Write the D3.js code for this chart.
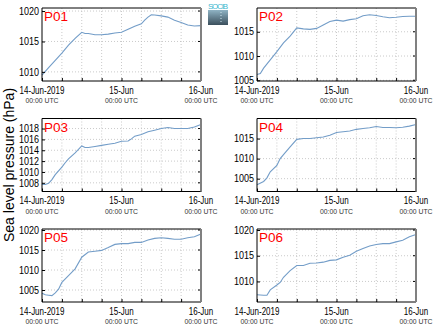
<!DOCTYPE html>
<html><head><meta charset="utf-8">
<script src="https://cdn.jsdelivr.net/npm/d3@7"></script>
<style>
html,body{margin:0;padding:0;background:#fff;}
svg{display:block;font-family:"Liberation Sans",Arial,sans-serif;}
</style></head>
<body><svg id="c" width="435" height="327"></svg>
<script>
// hours since 14-Jun-2019 00:00 UTC
const hoursP01 = [0,2,4,6,8,10,12,13,14,16,18,20,22,24,26,28,30,31,32,33,34,36,38,40,42,44,46,48];
const valuesP01 = [1009.45,1010.7,1011.9,1013.1,1014.4,1015.5,1016.5,1016.3,1016.3,1016.1,1016.1,1016.2,1016.4,1016.5,1017.0,1017.5,1017.9,1018.5,1019.0,1019.4,1019.35,1019.2,1019.0,1018.5,1018.1,1017.7,1017.55,1017.6];
const hoursP02 = [0,1,2,4,6,8,10,12,14,16,18,20,22,24,26,28,30,32,34,36,38,40,42,44,46,48];
const valuesP02 = [1006.2,1006.4,1007.5,1009.2,1010.9,1012.7,1014.1,1015.8,1015.6,1015.5,1015.7,1016.4,1017.1,1017.4,1017.2,1017.5,1017.7,1018.3,1018.5,1018.35,1018.1,1017.9,1018.0,1018.15,1018.2,1018.2];
const hoursP03 = [0,1,2,3,4,6,7,8,10,12,13,14,16,18,20,22,24,26,27,28,30,32,34,36,38,40,42,44,46,48];
const valuesP03 = [1007.7,1007.7,1007.9,1008.6,1009.5,1010.9,1011.7,1012.4,1013.5,1014.8,1014.5,1014.5,1014.7,1014.9,1015.1,1015.3,1015.65,1015.7,1016.1,1016.6,1016.9,1017.4,1017.7,1018.0,1018.2,1018.0,1018.0,1018.0,1018.3,1018.75];
const hoursP04 = [0,2,3,4,6,7,8,10,12,14,16,18,20,22,24,26,28,30,32,34,36,38,40,42,44,46,48];
const valuesP04 = [1003.5,1004.3,1005.2,1006.7,1008.3,1010.0,1011.0,1012.9,1014.8,1015.0,1015.0,1015.2,1015.4,1015.8,1016.5,1016.7,1016.9,1017.3,1017.5,1017.7,1018.0,1017.75,1017.75,1017.7,1017.8,1018.1,1018.5];
const hoursP05 = [0,1,2,3,4,5,6,8,10,12,14,16,18,20,22,24,26,28,30,32,34,36,38,40,42,44,46,48];
const valuesP05 = [1004.2,1003.8,1003.7,1003.6,1004.3,1005.2,1006.9,1008.6,1010.3,1013.2,1014.5,1014.7,1014.9,1015.6,1016.4,1016.6,1016.6,1016.9,1016.9,1017.5,1017.9,1018.05,1017.9,1017.7,1017.7,1018.05,1018.3,1019.0];
const hoursP06 = [0,2,3,4,6,7,8,10,12,13,14,16,18,20,22,24,26,28,30,32,34,36,38,40,42,44,46,48];
const valuesP06 = [1007.4,1007.3,1007.3,1008.35,1009.3,1009.8,1010.8,1012.1,1013.1,1013.1,1013.1,1013.55,1013.6,1013.75,1014.1,1014.2,1014.7,1015.1,1015.85,1016.4,1016.9,1017.2,1017.35,1017.35,1017.7,1018.0,1018.7,1019.15];

const stations = ["P01","P02","P03","P04","P05","P06"];
const yDomains = [[1008.5,1020.5],[1004.85,1019.9],[1006.4,1019.85],[1001.8,1020],[1002,1020.25],[1006,1020.2]];
const yTicks = [[1010,1015,1020],[1005,1010,1015],[1008,1010,1012,1014,1016,1018],[1005,1010,1015],[1005,1010,1015,1020],[1010,1015,1020]];
const xTickLabels = ["14-Jun-2019","15-Jun","16-Jun"];
const xTickSub = ["00:00 UTC","00:00 UTC","00:00 UTC"];
const yLabel = "Sea level pressure (hPa)";

const hours = [hoursP01,hoursP02,hoursP03,hoursP04,hoursP05,hoursP06];
const values = [valuesP01,valuesP02,valuesP03,valuesP04,valuesP05,valuesP06];

const svg = d3.select("#c");
const t0 = Date.UTC(2019,5,14);
const colX = [42, 257], rowY = [8, 118.5, 229];
const W = 159, H = 73;

function squeeze(sel, f){
  sel.each(function(){ const n=this.getComputedTextLength(); this.setAttribute("textLength", n*f); this.setAttribute("lengthAdjust","spacingAndGlyphs"); });
}

// logo
const defs = svg.append("defs");
const lg = defs.append("linearGradient").attr("id","lg").attr("x1",0).attr("y1",0).attr("x2",0).attr("y2",1);
lg.append("stop").attr("offset","0%").attr("stop-color","#8fb3c4");
lg.append("stop").attr("offset","100%").attr("stop-color","#3b4f5c");
svg.append("rect").attr("x",208).attr("y",10).attr("width",20).attr("height",15).attr("fill","url(#lg)");
svg.append("line").attr("x1",221).attr("x2",221).attr("y1",12).attr("y2",23).attr("stroke","#cfe6ee").attr("stroke-dasharray","1,2").attr("stroke-width",1);
svg.append("text").attr("x",218).attr("y",9).attr("text-anchor","middle").attr("font-size",8).attr("fill","#3fb8d0").attr("textLength",20).text("SOCIB");

stations.forEach((name,i)=>{
  const ox = colX[i%2], oy = rowY[Math.floor(i/2)];
  const g = svg.append("g").attr("transform",`translate(${ox},${oy})`);
  const x = d3.scaleUtc().domain([new Date(t0), new Date(t0+48*3600e3)]).range([0,W]);
  const y = d3.scaleLinear().domain(yDomains[i]).range([H,0]);
  const gridX = d3.range(0,49,6).map(h=>new Date(t0+h*3600e3));
  // grid
  g.append("g").selectAll("line").data(gridX.slice(1,-1)).join("line")
    .attr("x1",d=>x(d)).attr("x2",d=>x(d)).attr("y1",0).attr("y2",H)
    .attr("stroke","#bdbdbd").attr("stroke-dasharray","1,2").attr("stroke-width",0.8);
  g.append("g").selectAll("line").data(yTicks[i]).join("line")
    .attr("x1",0).attr("x2",W).attr("y1",d=>y(d)).attr("y2",d=>y(d))
    .attr("stroke","#bdbdbd").attr("stroke-dasharray","1,2").attr("stroke-width",0.8);
  // line
  const pts = hours[i].map((h,k)=>[new Date(t0+h*3600e3), values[i][k]]);
  g.append("path").datum(pts).attr("fill","none").attr("stroke","#739dc8").attr("stroke-width",1.1)
    .attr("d", d3.line().x(d=>x(d[0])).y(d=>y(d[1])));
  // y axis
  const ya = g.append("g").call(d3.axisLeft(y).tickValues(yTicks[i]).tickFormat(d3.format("d")).tickSize(-3).tickPadding(3));
  ya.select(".domain").remove();
  ya.selectAll("text").attr("font-size",10).attr("fill","#000").attr("font-family","Liberation Sans, Arial, sans-serif");
  squeeze(ya.selectAll("text"), 0.9);
  ya.selectAll("line").attr("stroke","#000");
  // right-side ticks
  g.append("g").selectAll("line").data(yTicks[i]).join("line")
    .attr("x1",W-3).attr("x2",W).attr("y1",d=>y(d)).attr("y2",d=>y(d)).attr("stroke","#000");
  // x axis
  const xticks = [0,24,48].map(h=>new Date(t0+h*3600e3));
  const xa = g.append("g").attr("transform",`translate(0,${H})`)
    .call(d3.axisBottom(x).tickValues(gridX).tickSize(-3).tickFormat(""));
  xa.select(".domain").remove();
  xa.selectAll("line").attr("stroke","#000");
  xticks.forEach((d,k)=>{
    const t1 = g.append("text").attr("x",x(d)).attr("y",H+12.5).attr("text-anchor","middle").attr("font-size",10.5).attr("fill","#000").text(xTickLabels[k]);
    squeeze(t1, 0.76);
    const t2 = g.append("text").attr("x",x(d)).attr("y",H+22).attr("text-anchor","middle").attr("font-size",7.6).attr("fill","#333").text(xTickSub[k]);
    squeeze(t2, 0.9);
  });
  // frame
  g.append("path").attr("d",`M${W},0H0V${H}H${W}`).attr("fill","none").attr("stroke","#000").attr("stroke-width",1);
  g.append("line").attr("x1",W).attr("x2",W).attr("y1",0).attr("y2",H).attr("stroke","#808080").attr("stroke-width",2);
  // title
  g.append("text").attr("x",2).attr("y",13).attr("font-size",13.5).attr("fill","#ff0000").text(name);
});

svg.append("text").attr("transform","translate(14,165) rotate(-90)").attr("text-anchor","middle")
  .attr("font-size",14).attr("fill","#000").text(yLabel);
</script></body></html>
